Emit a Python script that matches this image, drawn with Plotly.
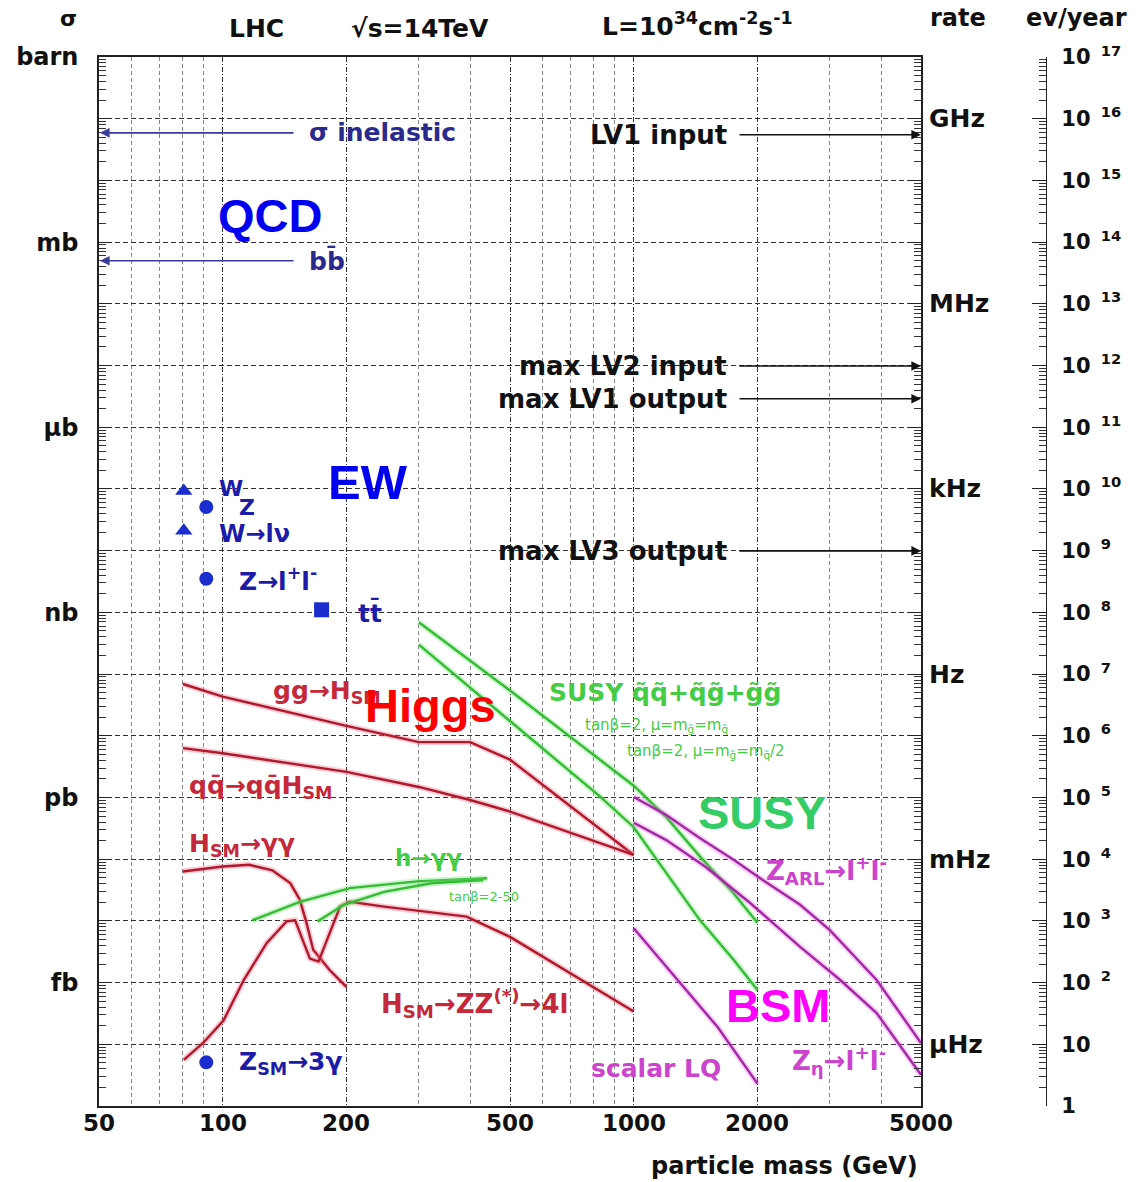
import math
import plotly.graph_objects as go

# ---------------- data (mass in GeV, rate in events/year) ----------------
x_tick_vals = [50, 100, 200, 500, 1000, 2000, 5000]
x_tick_text = ["50", "100", "200", "500", "1000", "2000", "5000"]
x_grid_minor = [60, 70, 80, 90, 300, 400, 600, 700, 800, 900, 3000, 4000]

y_decades = [10.0 ** k for k in range(0, 18)]
sigma_labels = {17: "barn", 14: "mb", 11: "μb", 8: "nb", 5: "pb", 2: "fb"}
rate_labels = ["GHz", "MHz", "kHz", "Hz", "mHz", "μHz"]
rate_label_vals = [1e16, 1e13, 1e10, 1e7, 1e4, 1e1]

# electroweak reference points
ew_mass = [80.4, 91.2, 80.4, 91.2, 174, 91.2]
ew_rate = [9.3e9, 5.1e9, 2.1e9, 3.5e8, 1.1e8, 5.1]
ew_symbol = ["triangle-up", "circle", "triangle-up", "circle", "square", "circle"]

# Higgs curves
ggH_mass = [80, 100, 200, 300, 400, 500, 1000]
ggH_rate = [6.9e6, 4.3e6, 1.45e6, 7.9e5, 7.9e5, 4.1e5, 1.17e4]
qqH_mass = [80, 100, 200, 300, 400, 500, 1000]
qqH_rate = [6.3e5, 5.2e5, 2.6e5, 1.48e5, 9.1e4, 5.9e4, 1.17e4]
Hgg_mass = [80, 100, 116, 132, 146, 154, 160, 166, 182, 200]
Hgg_rate = [6.3e3, 7.6e3, 8.1e3, 6.6e3, 4.1e3, 2.2e3, 910, 340, 160, 85]
HZZ_mass = [80.4, 89.6, 100.5, 112.5, 128, 143, 150, 163, 171, 182, 193, 204, 247, 392, 500, 1000]
HZZ_rate = [5.6, 10.5, 24.5, 110, 440, 980, 1020, 245, 219, 630, 1700, 2040, 1700, 1170, 550, 34]

# SUSY curves
hgg_a_mass = [118, 154, 204, 297, 440]
hgg_a_rate = [1020, 2040, 3390, 4370, 4900]
hgg_b_mass = [170, 197, 247, 322, 430]
hgg_b_rate = [980, 1820, 2950, 4070, 4570]
susy_up_mass = [300, 500, 1000, 1200, 1450, 1750, 2000]
susy_up_rate = [6.9e7, 5.4e6, 1.55e5, 4.8e4, 1.1e4, 2.8e3, 930]
susy_lo_mass = [300, 500, 830, 1000, 1200, 1450, 1750, 2000]
susy_lo_rate = [3.0e7, 1.74e6, 1.02e5, 3.3e4, 6.0e3, 1.02e3, 234, 76]

# BSM curves
zarl_mass = [1000, 1200, 1450, 1750, 2060, 2540, 3000, 3900, 5000]
zarl_rate = [1.02e5, 5.2e4, 2.19e4, 9.8e3, 4.6e3, 1.82e3, 710, 110, 10.5]
zeta_mass = [1000, 1200, 1500, 1920, 2540, 3180, 3900, 5000]
zeta_rate = [3.9e4, 2.04e4, 7.4e3, 1.95e3, 380, 110, 32, 3.2]
lq_mass = [1000, 1320, 1600, 2000]
lq_rate = [760, 85, 19, 2.3]

# rate indicators
left_arrow_labels = ["σ inelastic", "bb̄"]
left_arrow_vals = [5.9e15, 5.0e13]
right_arrow_labels = ["LV1 input", "max LV2 input", "max LV1 output", "max LV3 output"]
right_arrow_vals = [5.5e15, 9.8e11, 2.9e11, 9.9e8]

# ---------------- geometry ----------------
W, H = 1139, 1182
ML, MR, MT, MB = 99, 30, 57, 76
PW = W - ML - MR
PH = H - MT - MB
X_RIGHT = 921


def pxx(x):
    return (x - ML) / PW


def pxy(y):
    return (H - MB - y) / PH


fig = go.Figure()

RED, RED_H = "#b0182d", "rgba(240,110,130,0.35)"
GRN, GRN_H = "#35bb35", "rgba(110,230,110,0.35)"
MAG, MAG_H = "#a02aa0", "rgba(240,110,240,0.35)"


def curve(x, y, color, halo):
    fig.add_trace(go.Scatter(x=x, y=y, mode="lines", line=dict(color=halo, width=6),
                             hoverinfo="skip", showlegend=False))
    fig.add_trace(go.Scatter(x=x, y=y, mode="lines", line=dict(color=color, width=2.4),
                             showlegend=False))


curve(ggH_mass, ggH_rate, RED, RED_H)
curve(qqH_mass, qqH_rate, RED, RED_H)
curve(Hgg_mass, Hgg_rate, RED, RED_H)
curve(HZZ_mass, HZZ_rate, RED, RED_H)
curve(hgg_a_mass, hgg_a_rate, GRN, GRN_H)
curve(hgg_b_mass, hgg_b_rate, GRN, GRN_H)
curve(susy_up_mass, susy_up_rate, GRN, GRN_H)
curve(susy_lo_mass, susy_lo_rate, GRN, GRN_H)
curve(zarl_mass, zarl_rate, MAG, MAG_H)
curve(zeta_mass, zeta_rate, MAG, MAG_H)
curve(lq_mass, lq_rate, MAG, MAG_H)

fig.add_trace(go.Scatter(x=ew_mass, y=ew_rate, mode="markers",
                         marker=dict(symbol=ew_symbol, size=[15, 14, 15, 14, 15, 14],
                                     color="#1a2ed0", opacity=1, line=dict(width=0)),
                         showlegend=False))
# same points on the ev/year axis (invisible) so that axis is drawn
fig.add_trace(go.Scatter(x=ew_mass, y=ew_rate, mode="markers", yaxis="y2",
                         marker=dict(opacity=0), hoverinfo="skip", showlegend=False))

y_minor = [m * d for d in y_decades[:-1] for m in range(2, 10)]

fig.update_layout(
    width=W, height=H, template="none",
    margin=dict(l=ML, r=MR, t=MT, b=MB, autoexpand=False),
    paper_bgcolor="white", plot_bgcolor="white", showlegend=False,
    xaxis=dict(
        type="log", range=[math.log10(50), math.log10(5000)], domain=[0, (X_RIGHT - ML) / PW],
        tickvals=x_tick_vals, ticktext=x_tick_text, ticks="", showticklabels=False,
        showgrid=True, gridcolor="#333", griddash="5px,2px,1px,2px", gridwidth=1,
        minor=dict(tickvals=x_grid_minor, showgrid=True, gridcolor="#888",
                   griddash="4px,3px", gridwidth=1, ticks=""),
        showline=True, linecolor="#222", linewidth=1.5, mirror=True,
        zeroline=False, automargin=False,
    ),
    yaxis=dict(
        type="log", range=[0, 17], domain=[0, 1],
        tickvals=y_decades, ticktext=[sigma_labels.get(k, "") for k in range(18)],
        ticks="inside", ticklen=12, tickcolor="#222", tickwidth=1,
        tickfont=dict(family="DejaVu Sans", size=24, color="#111", weight="bold"),
        showgrid=True, gridcolor="#333", griddash="5px,3px", gridwidth=1,
        minor=dict(tickvals=y_minor, ticks="inside", ticklen=7, tickcolor="#333",
                   showgrid=False),
        showline=True, linecolor="#222", linewidth=1.5, mirror="allticks",
        zeroline=False, automargin=False, ticklabelstandoff=14,
    ),
    yaxis2=dict(
        type="log", range=[0, 17], overlaying="y", anchor="free",
        position=(1046 - ML) / PW, side="right",
        tickvals=y_decades,
        ticktext=["1", "10"] + ["10<sup>  %d</sup>" % k for k in range(2, 18)],
        ticks="inside", ticklen=14, tickcolor="#222", tickwidth=1,
        tickfont=dict(family="DejaVu Sans", size=21, color="#111", weight="bold"),
        minor=dict(tickvals=y_minor, ticks="inside", ticklen=7, tickcolor="#333",
                   showgrid=False),
        showgrid=False, showline=True, linecolor="#222", linewidth=1.2,
        zeroline=False, automargin=False, ticklabelstandoff=10,
    ),
)

ann = []


def lab(text, x, y, color="#111", size=22, anchor="left", family="DejaVu Sans",
        weight="bold", yanchor="middle"):
    ann.append(dict(text=text, x=pxx(x), y=pxy(y), xref="paper", yref="paper",
                    xanchor=anchor, yanchor=yanchor, showarrow=False,
                    font=dict(family=family, size=size, color=color, weight=weight)))


# x tick labels (placed on the mass axis)
for t, v in zip(x_tick_text, x_tick_vals):
    ann.append(dict(text=t, x=math.log10(v), y=pxy(1123), xref="x", yref="paper",
                    xanchor="center", yanchor="middle", showarrow=False,
                    font=dict(family="DejaVu Sans", size=23, color="#111", weight="bold")))

# header texts
lab("σ", 68, 18, size=22, anchor="center")
lab("LHC", 256, 28, size=25, anchor="center")
lab("√s=14TeV", 420, 28, size=25, anchor="center")
lab("L=10<sup>34</sup>cm<sup>-2</sup>s<sup>-1</sup>", 697, 24, size=25, anchor="center")
lab("rate", 958, 18, size=24, anchor="center")
lab("ev/year", 1024, 18, size=24, anchor="left")
lab("particle mass (GeV)", 920, 1166, size=24, anchor="right")

# rate labels on the right of the frame
for t, v in zip(rate_labels, rate_label_vals):
    ann.append(dict(text=t, x=pxx(927), y=math.log10(v), xref="paper", yref="y",
                    xanchor="left", yanchor="middle", showarrow=False,
                    font=dict(family="DejaVu Sans", size=25, color="#111", weight="bold")))

# arrows to the left frame
for t, v in zip(left_arrow_labels, left_arrow_vals):
    ann.append(dict(text="", x=pxx(100), y=math.log10(v), xref="paper", yref="y",
                    showarrow=True, ax=195, ay=0, arrowhead=2, arrowsize=1.2,
                    arrowwidth=1.6, arrowcolor="#3a3a9a"))
    ann.append(dict(text=t, x=pxx(307), y=math.log10(v), xref="paper", yref="y",
                    xanchor="left", yanchor="middle", showarrow=False,
                    font=dict(family="DejaVu Sans", size=25, color="#2a2a8e", weight="bold")))

# arrows to the right frame
for t, v in zip(right_arrow_labels, right_arrow_vals):
    ann.append(dict(text="", x=pxx(X_RIGHT), y=math.log10(v), xref="paper", yref="y",
                    showarrow=True, ax=-183, ay=0, arrowhead=2, arrowsize=1.2,
                    arrowwidth=1.6, arrowcolor="#111"))
    ann.append(dict(text=t, x=pxx(729), y=math.log10(v), xref="paper", yref="y",
                    xanchor="right", yanchor="middle", showarrow=False,
                    font=dict(family="DejaVu Sans", size=26, color="#111", weight="bold")))

# EW labels
NAVY = "#1c1ca8"
lab("W", 217, 488, NAVY, 22)
lab("Z", 237, 507, NAVY, 22)
lab("W→lν", 217, 534, NAVY, 24)
lab("Z→l<sup>+</sup>l<sup>-</sup>", 237, 579, NAVY, 25)
lab("tt̄", 356, 612, NAVY, 25)
lab("Z<sub>SM</sub>→3γ", 237, 1063, NAVY, 25)

# Higgs labels
DR = "#c4283a"
lab("gg→H<sub>SM</sub>", 271, 692, DR, 25)
lab("qq̄→qq̄H<sub>SM</sub>", 187, 787, DR, 25)
lab("H<sub>SM</sub>→γγ", 187, 845, DR, 25)
lab("H<sub>SM</sub>→ZZ<sup>(*)</sup>→4l", 379, 1003, DR, 26)

# SUSY labels
GT = "#44cc44"
lab("h→γγ", 393, 858, GT, 23)
lab("tanβ=2-50", 447, 896, GT, 13, weight="normal")
lab("SUSY q̃q̃+q̃g̃+g̃g̃", 547, 692, GT, 25)
lab("tanβ=2, μ=m<sub>g̃</sub>=m<sub>q̃</sub>", 583, 725, GT, 15, weight="normal")
lab("tanβ=2, μ=m<sub>g̃</sub>=m<sub>q̃</sub>/2", 625, 752, GT, 15, weight="normal")

# BSM labels
MT_ = "#cc44cc"
lab("Z<sub>ARL</sub>→l<sup>+</sup>l<sup>-</sup>", 764, 870, MT_, 26)
lab("Z<sub>η</sub>→l<sup>+</sup>l<sup>-</sup>", 790, 1060, MT_, 26)
lab("scalar LQ", 589, 1068, MT_, 25)

# big category labels
BIG = "Liberation Sans"
lab("QCD", 270, 215, "#0000f0", 47, anchor="center", family=BIG)
lab("EW", 368, 482, "#0000f0", 49, anchor="center", family=BIG)
lab("Higgs", 430, 705, "#ff0000", 47, anchor="center", family=BIG)
lab("SUSY", 762, 812, "#33cc66", 47, anchor="center", family=BIG)
lab("BSM", 778, 1005, "#ff00ff", 47, anchor="center", family=BIG)

fig.update_layout(annotations=ann)
fig.write_html("out.html")
